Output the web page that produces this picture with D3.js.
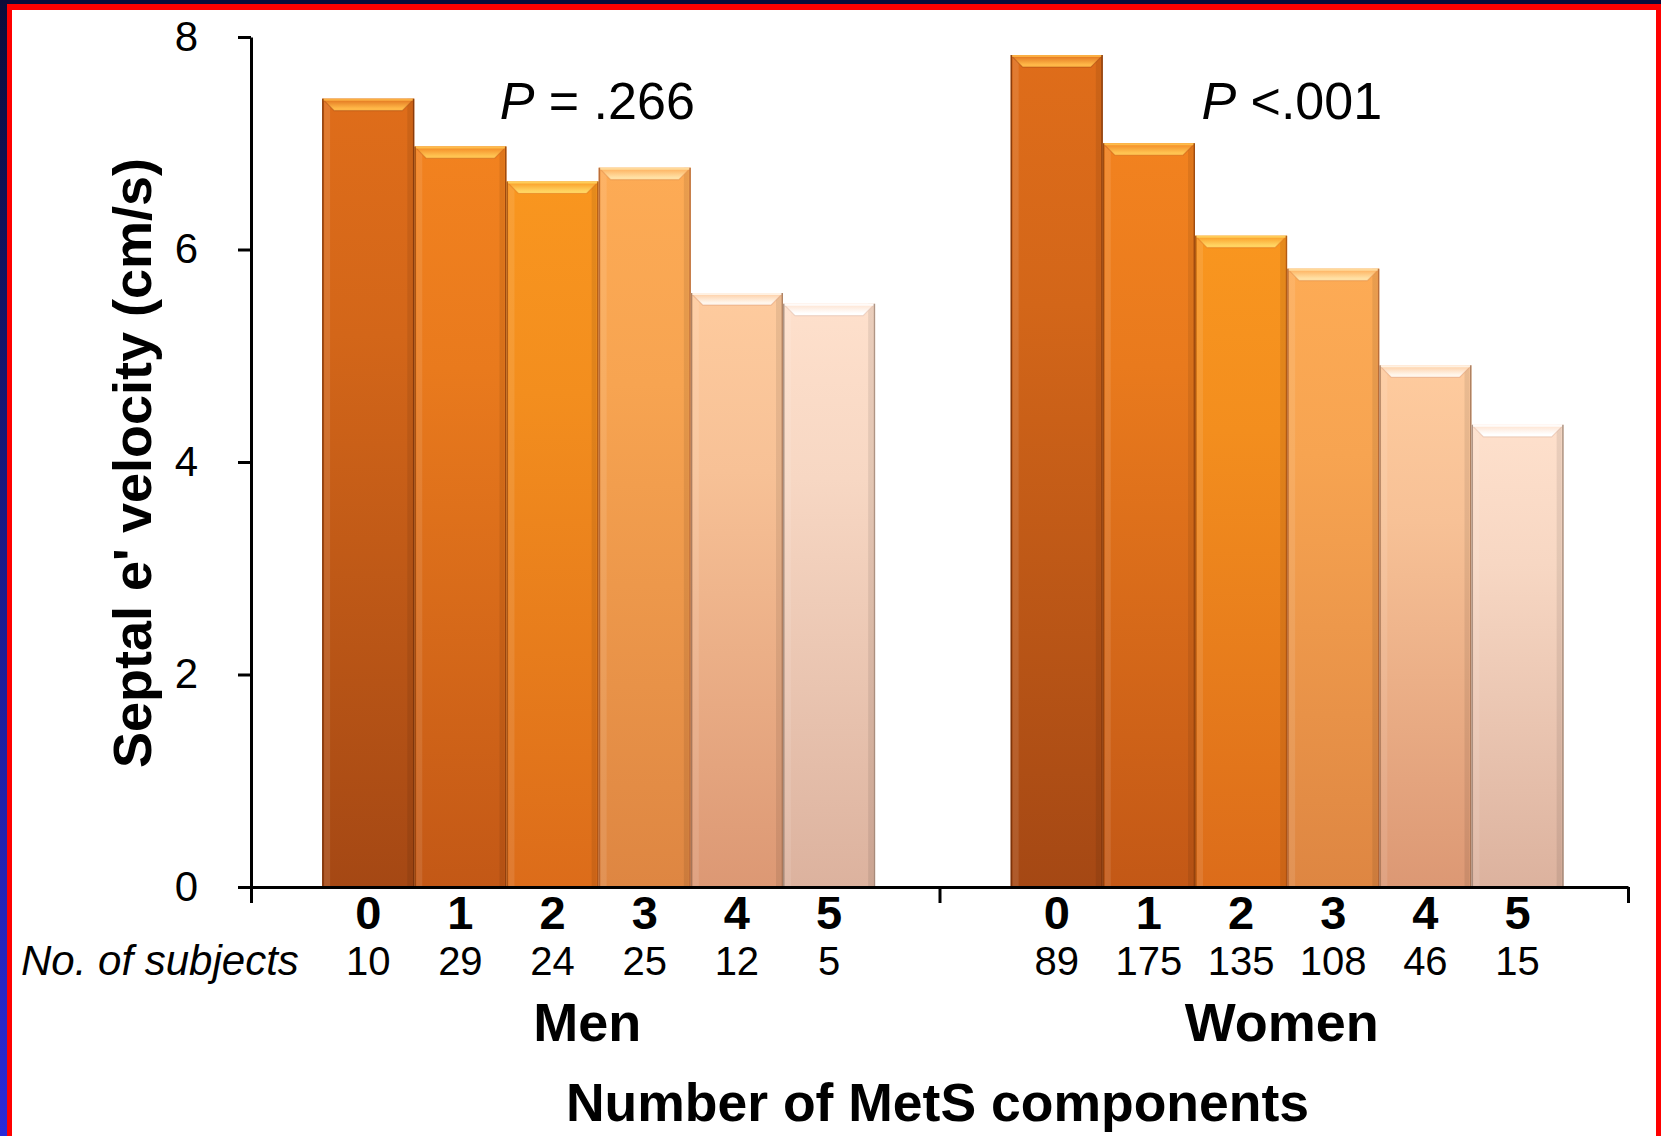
<!DOCTYPE html>
<meta charset="utf-8">
<style>
  body { margin: 0; background: #0b0c3a; }
  svg { display: block; font-family: "Liberation Sans", Arial, sans-serif; }
</style>
<svg width="1661" height="1136" class="chart"></svg>
<script src="https://cdn.jsdelivr.net/npm/d3@7/dist/d3.min.js"></script>
<script>

// values
var groups = ["Men", "Women"];
var components = ["0", "1", "2", "3", "4", "5"];
var menVelocity = [7.42, 6.97, 6.64, 6.77, 5.59, 5.49];
var womenVelocity = [7.83, 7.00, 6.13, 5.82, 4.91, 4.35];
var menSubjects = [10, 29, 24, 25, 12, 5];
var womenSubjects = [89, 175, 135, 108, 46, 15];
var pLabels = ["= .266", "<.001"];
var yTicks = [0, 2, 4, 6, 8];

// one colour set per component count
var palette = [
    {top: "#df6d1a", bottom: "#a54814", hi: "#ffb848", edge: "#6e2c08"},
    {top: "#f2821f", bottom: "#c35816", hi: "#ffc452", edge: "#82380a"},
    {top: "#f9961f", bottom: "#dc6c1a", hi: "#ffd462", edge: "#9a4810"},
    {top: "#fdab55", bottom: "#de8642", hi: "#ffe0a4", edge: "#a45a30"},
    {top: "#fecb9e", bottom: "#dc9874", hi: "#fff6ec", edge: "#94684e"},
    {top: "#fee0cc", bottom: "#dcb29e", hi: "#ffffff", edge: "#947c6e"}
];

var svg = d3.select("svg.chart");
var W = +svg.attr("width"), H = +svg.attr("height");

var defs = svg.append("defs");

// frame: navy band, red border, white page
var side = defs.append("linearGradient").attr("id", "side")
    .attr("x1", 0).attr("y1", 0).attr("x2", 0).attr("y2", 1);
side.append("stop").attr("offset", 0).attr("stop-color", "#0b0c3a");
side.append("stop").attr("offset", 1).attr("stop-color", "#2a2ad8");

svg.append("rect").attr("width", W).attr("height", H).attr("fill", "#0b0c3a");
svg.append("rect").attr("width", 7).attr("height", H).attr("fill", "url(#side)");
svg.append("rect").attr("x", 7).attr("y", 4).attr("width", W - 7).attr("height", H).attr("fill", "#ff0000");
svg.append("rect").attr("x", 12).attr("y", 10).attr("width", W - 17).attr("height", H).attr("fill", "#ffffff");

palette.forEach(function(c, i){
    var g = defs.append("linearGradient").attr("id", "body" + i)
        .attr("x1", 0).attr("y1", 0).attr("x2", 0).attr("y2", 1);
    g.append("stop").attr("offset", 0).attr("stop-color", c.top);
    g.append("stop").attr("offset", 0.3).attr("stop-color", d3.interpolateRgb(c.top, c.bottom)(0.2));
    g.append("stop").attr("offset", 1).attr("stop-color", c.bottom);

    var b = defs.append("linearGradient").attr("id", "bevel" + i)
        .attr("x1", 0).attr("y1", 0).attr("x2", 0).attr("y2", 1);
    b.append("stop").attr("offset", 0).attr("stop-color", d3.interpolateRgb(c.top, c.hi)(0.45));
    b.append("stop").attr("offset", 0.2).attr("stop-color", d3.interpolateRgb(c.top, c.hi)(0.25));
    b.append("stop").attr("offset", 0.8).attr("stop-color", c.hi);
    b.append("stop").attr("offset", 1).attr("stop-color", c.hi);
});

var y = d3.scaleLinear()
    .domain([0, 8])
    .range([887, 37]);

var gx = d3.scaleBand()
    .domain(groups)
    .range([251, 1628]);

var bx = d3.scaleBand()
    .domain(components)
    .range([0, gx.bandwidth()])
    .paddingInner(0)
    .paddingOuter(0.735)
    .align(0.525);

var bars = [];
groups.forEach(function(g, gi){
    var vals = gi === 0 ? menVelocity : womenVelocity;
    var subj = gi === 0 ? menSubjects : womenSubjects;
    components.forEach(function(c, i){
        bars.push({group: g, comp: c, i: i, value: vals[i], n: subj[i],
                   x: gx(g) + bx(c)});
    });
});

var w = bx.bandwidth();
var bevel = 12, inset = 12;

var bar = svg.append("g").selectAll("g.bar")
    .data(bars)
    .join("g")
    .classed("bar", true);

bar.append("rect")
    .attr("x", function(d){ return d.x; })
    .attr("y", function(d){ return y(d.value); })
    .attr("width", w)
    .attr("height", function(d){ return y(0) - y(d.value); })
    .attr("fill", function(d){ return "url(#body" + d.i + ")"; });

// soft side shading
bar.append("rect")
    .attr("x", function(d){ return d.x + 2; })
    .attr("y", function(d){ return y(d.value); })
    .attr("width", 6)
    .attr("height", function(d){ return y(0) - y(d.value); })
    .attr("fill", "#ffffff").attr("fill-opacity", 0.1);
bar.append("rect")
    .attr("x", function(d){ return d.x + w - 7; })
    .attr("y", function(d){ return y(d.value); })
    .attr("width", 5)
    .attr("height", function(d){ return y(0) - y(d.value); })
    .attr("fill", "#000000").attr("fill-opacity", 0.08);

// top bevel
bar.append("path")
    .attr("d", function(d){
        var t = y(d.value);
        return "M" + d.x + "," + t + "H" + (d.x + w) +
            "L" + (d.x + w - inset) + "," + (t + bevel) +
            "H" + (d.x + inset) + "Z";
    })
    .attr("fill", function(d){ return "url(#bevel" + d.i + ")"; });
bar.append("path")
    .attr("d", function(d){
        var t = y(d.value);
        return "M" + (d.x + 1) + "," + (t + 1) +
            "L" + (d.x + inset) + "," + (t + bevel) +
            "H" + (d.x + w - inset) +
            "L" + (d.x + w - 1) + "," + (t + 1);
    })
    .attr("fill", "none")
    .attr("stroke", function(d){ return palette[d.i].bottom; })
    .attr("stroke-opacity", 0.45)
    .attr("stroke-width", 1.2);
bar.append("line")
    .attr("x1", function(d){ return d.x + 1; })
    .attr("x2", function(d){ return d.x + w - 1; })
    .attr("y1", function(d){ return y(d.value) + 1; })
    .attr("y2", function(d){ return y(d.value) + 1; })
    .attr("stroke", function(d){ return palette[d.i].hi; })
    .attr("stroke-opacity", 0.8)
    .attr("stroke-width", 2);

// dark edges
bar.append("path")
    .attr("d", function(d){
        var t = y(d.value);
        return "M" + (d.x + 0.75) + "," + y(0) + "V" + t +
            "M" + (d.x + w - 0.75) + "," + t + "V" + y(0);
    })
    .attr("fill", "none")
    .attr("stroke", function(d){ return palette[d.i].edge; })
    .attr("stroke-opacity", 0.75)
    .attr("stroke-width", 1.5);

// axes
var yAxis = d3.axisLeft(y)
    .tickValues(yTicks)
    .tickFormat(d3.format("d"))
    .tickSize(13)
    .tickSizeOuter(0)
    .tickPadding(40);

var ya = svg.append("g")
    .attr("transform", "translate(251,0)")
    .call(yAxis);
ya.selectAll("path, line").attr("stroke", "#000").attr("stroke-width", 3);
ya.selectAll("text").attr("font-size", 42).attr("font-family", null).attr("fill", "#000");

var xb = d3.scaleLinear().domain([0, groups.length]).range(gx.range());
var xAxis = d3.axisBottom(xb)
    .tickValues(d3.range(groups.length + 1))
    .tickFormat("")
    .tickSize(16)
    .tickSizeOuter(0);

var xa = svg.append("g")
    .attr("transform", "translate(0," + y(0) + ")")
    .call(xAxis);
xa.selectAll("path, line").attr("stroke", "#000").attr("stroke-width", 3);

// y title
svg.append("text")
    .attr("transform", "translate(151,463) rotate(-90)")
    .attr("text-anchor", "middle")
    .attr("font-size", 54)
    .attr("font-weight", "bold")
    .text("Septal e' velocity (cm/s)");

// P values
var pl = svg.append("g").selectAll("text")
    .data(groups)
    .join("text")
    .attr("x", function(d, i){ return gx(d) + gx.bandwidth() / 2 + 2 + i * 6; })
    .attr("y", 119)
    .attr("text-anchor", "middle")
    .attr("font-size", 52);
pl.append("tspan").attr("font-style", "italic").text("P");
pl.append("tspan").text(function(d, i){ return " " + pLabels[i]; });

// component numbers and counts
svg.append("g").selectAll("text")
    .data(bars)
    .join("text")
    .attr("x", function(d){ return d.x + w / 2; })
    .attr("y", 929)
    .attr("text-anchor", "middle")
    .attr("font-size", 47)
    .attr("font-weight", "bold")
    .text(function(d){ return d.comp; });

svg.append("g").selectAll("text")
    .data(bars)
    .join("text")
    .attr("x", function(d){ return d.x + w / 2; })
    .attr("y", 975)
    .attr("text-anchor", "middle")
    .attr("font-size", 40)
    .text(function(d){ return d.n; });

svg.append("text")
    .attr("x", 21)
    .attr("y", 975)
    .attr("font-size", 42)
    .attr("font-style", "italic")
    .text("No. of subjects");

svg.append("g").selectAll("text")
    .data(groups)
    .join("text")
    .attr("x", function(d, i){ return gx(d) + gx.bandwidth() / 2 - 8 + i * 6; })
    .attr("y", 1041)
    .attr("text-anchor", "middle")
    .attr("font-size", 54)
    .attr("font-weight", "bold")
    .text(function(d){ return d; });

svg.append("text")
    .attr("x", (gx.range()[0] + gx.range()[1]) / 2 - 2)
    .attr("y", 1121)
    .attr("text-anchor", "middle")
    .attr("font-size", 53.5)
    .attr("font-weight", "bold")
    .text("Number of MetS components");

</script>
